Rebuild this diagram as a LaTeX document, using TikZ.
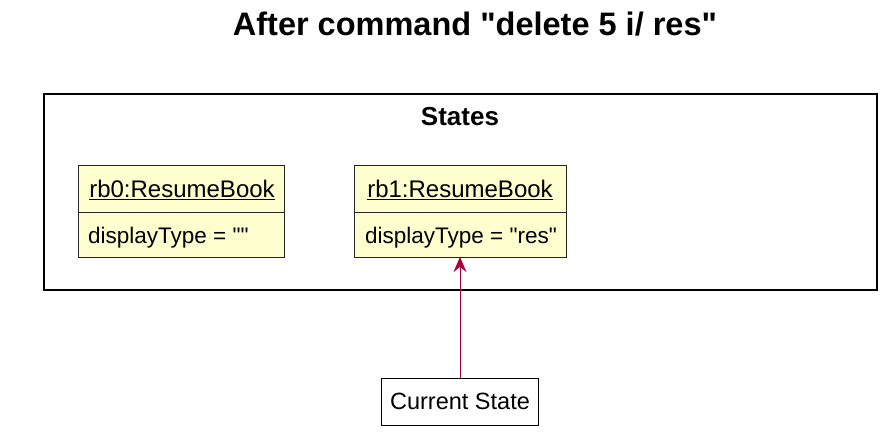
\documentclass[tikz,border=0pt]{standalone}
\usepackage{fontspec}
\setmainfont{Liberation Sans}[Ligatures=TeXOff]
\usetikzlibrary{arrows.meta}
\definecolor{objfill}{HTML}{FEFECE}
\definecolor{arrowcol}{HTML}{A80036}
\tikzset{
  objbox/.style={draw=black!85, line width=1pt, fill=objfill},
  pkg/.style={draw=black, line width=2pt},
  plainbox/.style={draw=black, line width=1pt, fill=white, inner sep=0pt, minimum width=157pt, minimum height=47pt, font=\fontsize{23.5}{26}\selectfont},
  hdr/.style={inner sep=0pt, font=\fontsize{24}{26}\selectfont},
  attr/.style={inner sep=0pt, font=\fontsize{22.5}{26}\selectfont},
  link/.style={draw=arrowcol, line width=1pt, -{Stealth[length=15pt,width=13pt,inset=5pt]}}
}
\begin{document}
\begin{tikzpicture}[x=1pt,y=-1pt]
\useasboundingbox (0,0) rectangle (896,444);
\node[inner sep=0pt, font=\fontsize{32.5}{36}\selectfont\bfseries] (title) at (475,24) {After command "delete 5 i/ res"};
\draw[pkg] (44,94) rectangle (877,290);
\node[inner sep=0pt, font=\fontsize{26}{30}\selectfont\bfseries] (states) at (460,117) {States};
% rb0
\draw[objbox] (78,165) rectangle (284,257);
\draw[black!85, line width=1pt] (78,212) -- (284,212);
\node[hdr] (rb0) at (182,190) {\underline{rb0:ResumeBook}};
\node[attr, anchor=west] (rb0a) at (88,238) {displayType = ""};
% rb1
\draw[objbox] (354,165) rectangle (566,257);
\draw[black!85, line width=1pt] (354,212) -- (566,212);
\node[hdr] (rb1) at (460,190) {\underline{rb1:ResumeBook}};
\node[attr, anchor=west] (rb1a) at (365,238) {displayType = "res"};
\coordinate (rb1bot) at (460,257);
% current state
\node[plainbox] (cur) at (460,401.5) {Current State};
\draw[link] (cur.north) -- (rb1bot);
\end{tikzpicture}
\end{document}
